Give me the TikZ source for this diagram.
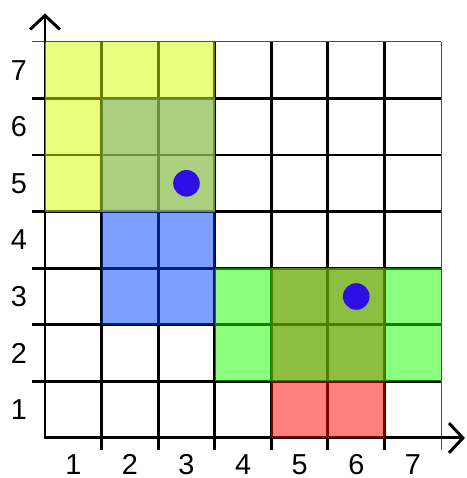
\documentclass[tikz,border=0pt]{standalone}
\usepackage{fontspec}
\setmainfont{Liberation Sans}
\usepackage{tikz}
\usetikzlibrary{arrows.meta}
\definecolor{cellyellow}{RGB}{213,255,0}
\definecolor{cellblue}{RGB}{0,64,255}
\definecolor{cellgreen}{RGB}{26,255,0}
\definecolor{cellred}{RGB}{255,0,0}
\definecolor{dotblue}{RGB}{45,15,230}

\begin{document}
\begin{tikzpicture}[
        gridline/.style={line width=1.5pt, black},
        edgeline/.style={line width=0.6pt, black!70},
        axis/.style={line width=1.5pt, line cap=rect, -{Straight Barb[length=7pt, width=15pt, line width=1.5pt]}},
        patch/.style={fill opacity=0.5},
        marker/.style={circle, fill=dotblue, inner sep=0pt, minimum size=0.47cm},
        tick/.style={inner sep=0pt, font=\fontsize{14.5}{16}\selectfont}
    ]
        \useasboundingbox (-0.795,-0.707) rectangle (7.456,7.739);

        % Grid
        \foreach \i in {1,...,6} {
            \draw[gridline] (-0.23,\i) -- (7,\i);
            \draw[gridline] (\i,-0.21) -- (\i,7);
        }
        \draw[edgeline] (-0.23,7) -- (7,7);
        \draw[edgeline] (7,-0.21) -- (7,7);

        % Axes
        \coordinate (O) at (0,0);
        \coordinate (xend) at (7.42,0);
        \coordinate (yend) at (0,7.5);
        \draw[axis] (O) -- (xend);
        \draw[axis] (O) -- (yend);

        % Tick labels
        \foreach \i in {1,...,7} {
            \node[tick] (xl\i) at (\i-0.5,-0.47) {\i};
            \node[tick] (yl\i) at (-0.46,\i-0.5) {\i};
        }

        % Patches
        \fill[patch, cellblue] (1,2) rectangle (3,6);
        \fill[patch, cellyellow] (0,4) rectangle (3,7);
        \fill[patch, cellred] (4,0) rectangle (6,3);
        \fill[patch, cellgreen] (3,1) rectangle (7,3);

        % Points
        \node[marker] (p1) at (2.5,4.5) {};
        \node[marker] (p2) at (5.5,2.5) {};

    \end{tikzpicture}
\end{document}
